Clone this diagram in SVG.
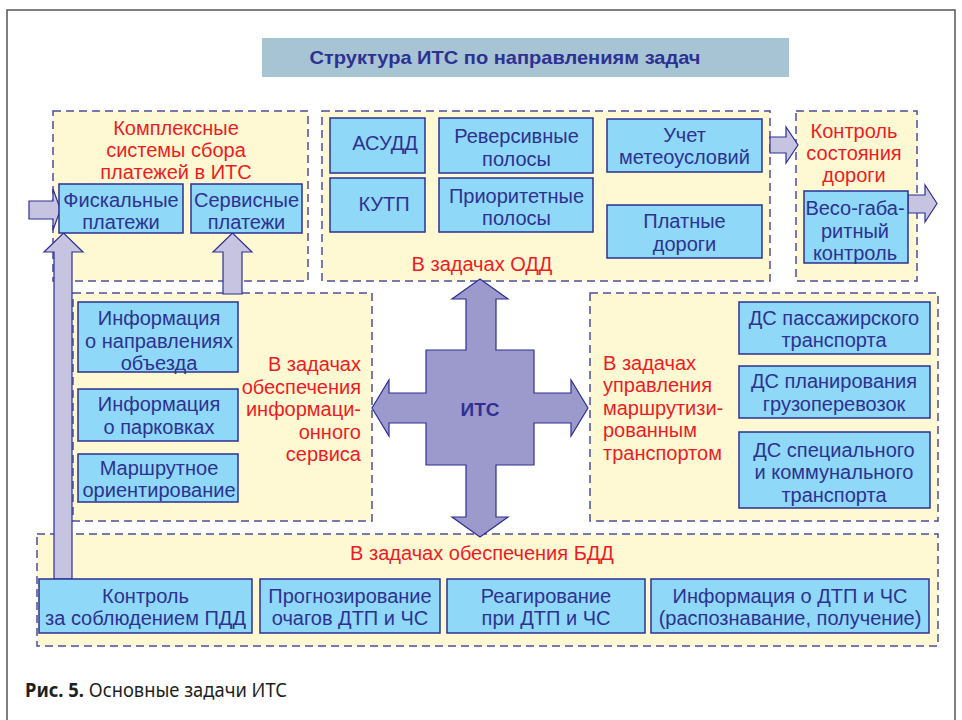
<svg xmlns="http://www.w3.org/2000/svg" width="962" height="720" viewBox="0 0 962 720">
<style>
.cont{fill:#fff9d3;stroke:#4d4d9e;stroke-width:1.5;stroke-dasharray:8 5}
.box{fill:#8fd8f8;stroke:#2e3192;stroke-width:1.5}
.t{font-family:"Liberation Sans",Arial,sans-serif;font-size:20px;fill:#2e3192;text-anchor:middle}
.r{font-family:"Liberation Sans",Arial,sans-serif;font-size:20px;fill:#ed1c24;text-anchor:middle}
.arr{fill:#c7c4e2;stroke:#2e3192;stroke-width:1.2}
.cross{fill:#9c99cc;stroke:#2e3192;stroke-width:1.2}
</style>
<rect x="0" y="0" width="962" height="720" fill="#ffffff"/>
<rect x="7" y="10" width="948" height="730" fill="none" stroke="#555555" stroke-width="1.5"/>
<g id="title">
<rect x="262" y="38" width="527" height="39" fill="#a6c4d4"/>
<text x="505" y="63.5" textLength="391" lengthAdjust="spacingAndGlyphs" style="font-family:'Liberation Sans',Arial,sans-serif;font-size:19px;font-weight:bold;fill:#2e3192;text-anchor:middle">Структура ИТС по направлениям задач</text>
</g>
<g id="containers">
<g id="payments"><rect class="cont" x="53" y="111" width="255" height="170"/>
<text class="r" x="176"><tspan x="176" y="135">Комплексные</tspan><tspan x="176" y="157">системы сбора</tspan><tspan x="176" y="179">платежей в ИТС</tspan></text></g>
<g id="odd"><rect class="cont" x="322" y="111" width="448" height="170"/>
<text class="r" x="482" y="271">В задачах ОДД</text></g>
<g id="road"><rect class="cont" x="796" y="111" width="121" height="170"/>
<text class="r"><tspan x="854" y="138">Контроль</tspan><tspan x="854" y="160">состояния</tspan><tspan x="854" y="182">дороги</tspan></text></g>
<g id="info"><rect class="cont" x="73" y="293" width="299" height="228"/>
<text class="r" style="text-anchor:end"><tspan x="361" y="371">В задачах</tspan><tspan x="361" y="393.5">обеспечения</tspan><tspan x="361" y="416">информаци-</tspan><tspan x="361" y="438.5">онного</tspan><tspan x="361" y="461">сервиса</tspan></text></g>
<g id="route"><rect class="cont" x="590" y="293" width="348" height="228"/>
<text class="r" style="text-anchor:start"><tspan x="603" y="369.5">В задачах</tspan><tspan x="603" y="392">управления</tspan><tspan x="603" y="414.5">маршрутизи-</tspan><tspan x="603" y="437">рованным</tspan><tspan x="603" y="459.5">транспортом</tspan></text></g>
<g id="bdd"><rect class="cont" x="37" y="534" width="901" height="112"/>
<text class="r" x="482" y="560">В задачах обеспечения БДД</text></g>
</g>
<g id="connectors">
<polygon class="arr" points="29,201 53,201 53,189 60.5,209.5 53,230 53,219 29,219"/>
<polygon class="arr" points="54,579 54,252 44,252 63.5,233 83,252 72,252 72,579"/>
<polygon class="arr" points="223,294 223,252 213,252 232.5,233 252,252 242,252 242,294"/>
<polygon class="arr" points="770,137 786,137 786,127 798,145 786,163 786,153 770,153"/>
<polygon class="arr" points="908,195 925,195 925,185 937,203.5 925,222 925,213 908,213"/>
</g>
<g id="fiscal"><rect class="box" x="59" y="184" width="124" height="49"/><text class="t"><tspan x="121" y="207">Фискальные</tspan><tspan x="121" y="229">платежи</tspan></text></g>
<g id="service"><rect class="box" x="191" y="184" width="111" height="49"/><text class="t"><tspan x="246.5" y="207">Сервисные</tspan><tspan x="246.5" y="229">платежи</tspan></text></g>
<g id="asudd"><rect class="box" x="330" y="118" width="95" height="55"/><text class="t" x="385" y="150">АСУДД</text></g>
<g id="kutp"><rect class="box" x="330" y="178" width="95" height="54"/><text class="t" x="384" y="211">КУТП</text></g>
<g id="reverse"><rect class="box" x="439" y="118" width="154" height="55"/><text class="t"><tspan x="516.5" y="143">Реверсивные</tspan><tspan x="516.5" y="166">полосы</tspan></text></g>
<g id="priority"><rect class="box" x="439" y="178" width="154" height="54"/><text class="t"><tspan x="516.5" y="202.5">Приоритетные</tspan><tspan x="516.5" y="225">полосы</tspan></text></g>
<g id="weather"><rect class="box" x="607" y="119" width="155" height="53"/><text class="t"><tspan x="684.5" y="142">Учет</tspan><tspan x="684.5" y="164">метеоусловий</tspan></text></g>
<g id="toll"><rect class="box" x="607" y="205" width="155" height="53"/><text class="t"><tspan x="684.5" y="227.5">Платные</tspan><tspan x="684.5" y="250.5">дороги</tspan></text></g>
<g id="weight"><rect class="box" x="804" y="191" width="104" height="72"/><text class="t"><tspan x="855" y="215">Весо-габа-</tspan><tspan x="855" y="237.5">ритный</tspan><tspan x="855" y="259.5">контроль</tspan></text></g>
<g id="detour"><rect class="box" x="78" y="302" width="160" height="70"/><text class="t"><tspan x="159" y="325">Информация</tspan><tspan x="159" y="348">о направлениях</tspan><tspan x="159" y="369.5">объезда</tspan></text></g>
<g id="parking"><rect class="box" x="78" y="389" width="160" height="52"/><text class="t"><tspan x="159" y="411">Информация</tspan><tspan x="159" y="433.5">о парковках</tspan></text></g>
<g id="guidance"><rect class="box" x="78" y="454" width="160" height="48"/><text class="t"><tspan x="159" y="475">Маршрутное</tspan><tspan x="159" y="497">ориентирование</tspan></text></g>
<g id="passenger"><rect class="box" x="739" y="302" width="191" height="52"/><text class="t"><tspan x="834" y="325">ДС пассажирского</tspan><tspan x="834" y="347">транспорта</tspan></text></g>
<g id="freight"><rect class="box" x="739" y="366" width="191" height="52"/><text class="t"><tspan x="834" y="388">ДС планирования</tspan><tspan x="834" y="411">грузоперевозок</tspan></text></g>
<g id="special"><rect class="box" x="739" y="432" width="191" height="76"/><text class="t"><tspan x="834" y="457">ДС специального</tspan><tspan x="834" y="479">и коммунального</tspan><tspan x="834" y="502">транспорта</tspan></text></g>
<g id="control"><rect class="box" x="39" y="579" width="213" height="54"/><text class="t"><tspan x="145.5" y="603">Контроль</tspan><tspan x="145.5" y="625">за соблюдением ПДД</tspan></text></g>
<g id="forecast"><rect class="box" x="260" y="579" width="180" height="54"/><text class="t"><tspan x="350" y="603">Прогнозирование</tspan><tspan x="350" y="625">очагов ДТП и ЧС</tspan></text></g>
<g id="response"><rect class="box" x="447" y="579" width="198" height="54"/><text class="t"><tspan x="546" y="603">Реагирование</tspan><tspan x="546" y="625">при ДТП и ЧС</tspan></text></g>
<g id="incident"><rect class="box" x="651" y="579" width="278" height="54"/><text class="t"><tspan x="790" y="603">Информация о ДТП и ЧС</tspan><tspan x="790" y="625">(распознавание, получение)</tspan></text></g>
<g id="its">
<polygon class="cross" points="480,279 508,299 496,299 496,350 534,350 534,393 571,393 571,380 588,408 571,436 571,423 534,423 534,465 496,465 496,517 508,517 480,537 452,517 466,517 466,465 426,465 426,423 389,423 389,436 372,408 389,380 389,393 426,393 426,350 466,350 466,299 452,299"/>
<text x="480" y="416" style="font-family:'Liberation Sans',Arial,sans-serif;font-size:19px;font-weight:bold;fill:#2e3192;text-anchor:middle">ИТС</text>
</g>
<g id="caption">
<text x="25" y="697" textLength="262" lengthAdjust="spacingAndGlyphs" style="font-family:'Noto Sans',sans-serif;font-size:19px;fill:#231f20"><tspan font-weight="bold">Рис. 5.</tspan> Основные задачи ИТС</text>
</g>
</svg>
